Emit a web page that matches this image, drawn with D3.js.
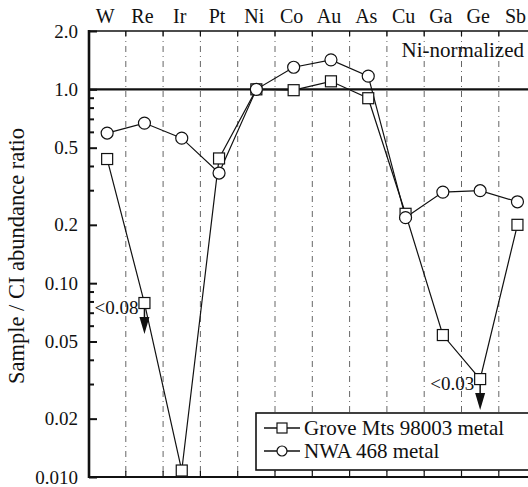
<!DOCTYPE html>
<html>
<head>
<meta charset="utf-8">
<script src="https://cdn.jsdelivr.net/npm/d3@7"></script>
<style>
html,body{margin:0;padding:0;background:#fff;}
</style>
</head>
<body>
<svg id="chart" width="528" height="487" font-family="'Liberation Serif', 'DejaVu Serif', serif"></svg>
<script>
const elements = ["W","Re","Ir","Pt","Ni","Co","Au","As","Cu","Ga","Ge","Sb"];
const groveValues = [0.437,0.079,0.0108,0.44,1.0,0.99,1.10,0.90,0.228,0.054,0.032,0.20];
const nwaValues   = [0.595,0.67,0.56,0.37,1.0,1.30,1.42,1.17,0.218,0.295,0.30,0.263];
const upperLimits = [{el:"Re", label:"<0.08"},{el:"Ge", label:"<0.03"}];
const yTickValues = [2.0,1.0,0.5,0.2,0.10,0.05,0.02,0.010];
const yTickLabels = ["2.0","1.0","0.5","0.2","0.10","0.05","0.02","0.010"];
const minorTicks = [0.9,0.8,0.7,0.6,0.4,0.3,0.09,0.08,0.07,0.06,0.04,0.03];
const seriesNames = ["Grove Mts 98003 metal","NWA 468 metal"];

const FONT = "'Liberation Serif', 'DejaVu Serif', serif";
const svg = d3.select("#chart");
svg.append("rect").attr("width",528).attr("height",487).attr("fill","#fff");

const plotLeft=89, plotTop=31, plotBottom=477;
const x = d3.scaleBand().domain(elements).range([88.5, 88.5+12*37.3]).padding(0);
const cx = d => x(d)+x.bandwidth()/2;
const y = d3.scaleLog().domain([0.01,2.0]).range([plotBottom, plotTop]);

// vertical dashed grid lines at band boundaries
const bounds = elements.slice(1).map(e => x(e));
svg.append("g").selectAll("line").data(bounds).join("line")
  .attr("x1",d=>d).attr("x2",d=>d).attr("y1",plotTop).attr("y2",plotBottom)
  .attr("stroke","#555").attr("stroke-width",0.9).attr("stroke-dasharray","6,4,1,4");

// top & bottom inward ticks
svg.append("g").selectAll("line").data(bounds).join("line")
  .attr("x1",d=>d).attr("x2",d=>d).attr("y1",plotTop).attr("y2",plotTop+5)
  .attr("stroke","#111").attr("stroke-width",1.2);
svg.append("g").selectAll("line").data(bounds).join("line")
  .attr("x1",d=>d).attr("x2",d=>d).attr("y1",plotBottom).attr("y2",plotBottom-6)
  .attr("stroke","#111").attr("stroke-width",1.2);

// frame
svg.append("line").attr("x1",plotLeft).attr("x2",528).attr("y1",plotTop).attr("y2",plotTop).attr("stroke","#111").attr("stroke-width",1.6);
svg.append("line").attr("x1",plotLeft).attr("x2",528).attr("y1",plotBottom).attr("y2",plotBottom).attr("stroke","#111").attr("stroke-width",2);
svg.append("line").attr("x1",plotLeft).attr("x2",528).attr("y1",y(1)).attr("y2",y(1)).attr("stroke","#111").attr("stroke-width",2.2);

// left axis
const yAxis = d3.axisRight(y).tickValues(yTickValues).tickFormat(()=>"").tickSize(8);
const ga = svg.append("g").attr("transform",`translate(${plotLeft},0)`).call(yAxis);
ga.select(".domain").remove();
ga.selectAll(".tick line").attr("stroke","#111").attr("stroke-width",2);
svg.append("g").selectAll("line").data(minorTicks).join("line")
  .attr("x1",plotLeft).attr("x2",plotLeft+5).attr("y1",d=>y(d)).attr("y2",d=>y(d))
  .attr("stroke","#111").attr("stroke-width",2);
svg.append("line").attr("x1",plotLeft).attr("x2",plotLeft).attr("y1",plotTop-1).attr("y2",plotBottom+1).attr("stroke","#111").attr("stroke-width",2.6);

const T = (sel)=>sel.attr("font-family",FONT).attr("fill","#111");

svg.append("g").selectAll("text").data(yTickValues).join("text")
  .attr("x",78).attr("y",d=>y(d)).attr("dy","0.35em").attr("text-anchor","end")
  .attr("font-size",19).call(T).text((d,i)=>yTickLabels[i]);

// category labels on top
svg.append("g").selectAll("text").data(elements).join("text")
  .attr("x",d=>cx(d)-2).attr("y",23).attr("text-anchor","middle")
  .attr("font-size",20).call(T).text(d=>d);

// axis title
svg.append("text").attr("transform","translate(24,256) rotate(-90)")
  .attr("text-anchor","middle").attr("font-size",22.5).call(T).text("Sample / CI abundance ratio");

svg.append("text").attr("x",524).attr("y",57).attr("text-anchor","end")
  .attr("font-size",21).call(T).text("Ni-normalized");

// lines
const line = d3.line().x((d,i)=>cx(elements[i])).y(d=>y(d));
svg.append("path").datum(groveValues).attr("d",line).attr("fill","none").attr("stroke","#111").attr("stroke-width",1.2);
svg.append("path").datum(nwaValues).attr("d",line).attr("fill","none").attr("stroke","#111").attr("stroke-width",1.2);

// upper-limit arrows
upperLimits.forEach(u=>{
  const i = elements.indexOf(u.el);
  const px = cx(u.el), py = y(groveValues[i]);
  svg.append("line").attr("x1",px).attr("x2",px).attr("y1",py).attr("y2",py+18).attr("stroke","#111").attr("stroke-width",1.5);
  svg.append("path").attr("d",`M${px-5},${py+14}L${px+5},${py+14}L${px},${py+31}Z`).attr("fill","#111");
  svg.append("text").attr("x",px-6).attr("y",py+4).attr("dy","0.35em").attr("text-anchor","end")
    .attr("font-size",19).call(T).text(u.label);
});

// markers
svg.append("g").selectAll("rect").data(groveValues).join("rect")
  .attr("x",(d,i)=>cx(elements[i])-5.5).attr("y",d=>y(d)-5.5).attr("width",11).attr("height",11)
  .attr("fill","#fff").attr("stroke","#111").attr("stroke-width",1.2);
svg.append("g").selectAll("circle").data(nwaValues).join("circle")
  .attr("cx",(d,i)=>cx(elements[i])).attr("cy",d=>y(d)).attr("r",6)
  .attr("fill","#fff").attr("stroke","#111").attr("stroke-width",1.2);

// legend
const lg = svg.append("g");
lg.append("rect").attr("x",256).attr("y",413).attr("width",290).attr("height",57)
  .attr("fill","#fff").attr("stroke","#111").attr("stroke-width",1.6);
const rows=[428,451];
seriesNames.forEach((n,i)=>{
  lg.append("line").attr("x1",264).attr("x2",300).attr("y1",rows[i]).attr("y2",rows[i]).attr("stroke","#111").attr("stroke-width",1.3);
  if(i===0) lg.append("rect").attr("x",277).attr("y",rows[i]-5).attr("width",10).attr("height",10).attr("fill","#fff").attr("stroke","#111").attr("stroke-width",1.2);
  else lg.append("circle").attr("cx",282).attr("cy",rows[i]).attr("r",5).attr("fill","#fff").attr("stroke","#111").attr("stroke-width",1.2);
  lg.append("text").attr("x",304).attr("y",rows[i]).attr("dy","0.35em").attr("font-size",21).call(T).text(n);
});
</script>
</body>
</html>
